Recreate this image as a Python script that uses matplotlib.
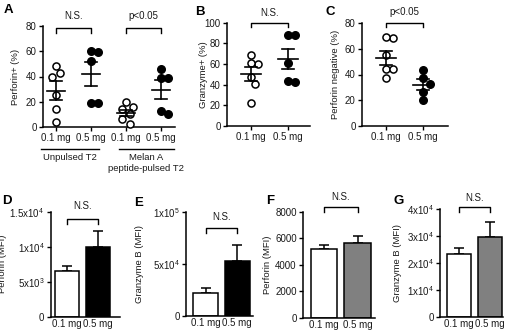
import numpy as np
import matplotlib
matplotlib.use("Agg")
import matplotlib.pyplot as plt
from matplotlib.transforms import blended_transform_factory

plt.rcParams['font.family'] = ['Liberation Sans', 'DejaVu Sans']
plt.rcParams['mathtext.default'] = 'regular'

W, H = 507, 332
fig = plt.figure(figsize=(W / 100, H / 100), dpi=100)

# ---------------- data ----------------
dose_labels = ["0.1 mg", "0.5 mg"]

# Panel A: Perforin+ (%)
a_unpulsed_01 = [48, 43, 39.5, 25, 14, 3.7]
a_unpulsed_05 = [60.5, 59.5, 52, 19, 19]
a_melan_01 = [19.5, 15.5, 14, 10, 6.5, 2]
a_melan_05 = [46, 39, 39, 10, 13]
a_groups = ["Unpulsed T2", "Melan A\npeptide-pulsed T2"]
a_sig = ["N.S.", "p<0.05"]

# Panel B: Granzyme+ (%)
b_01 = [69, 60, 61, 47, 41, 22.5]
b_05 = [88, 88, 61, 43, 44]

# Panel C: Perforin negative (%)
c_01 = [68, 69, 55, 44.3, 44, 37.5]
c_05 = [43.5, 37.5, 33, 26.5, 20]

# Panels D-G: MFI bars (mean, SEM)
d_mean = [6600, 9900];   d_sem = [700, 2350]
e_mean = [22300, 53200]; e_sem = [4200, 15200]
f_mean = [5150, 5650];   f_sem = [330, 500]
g_mean = [23200, 29700]; g_sem = [2200, 5600]

TXT = '#1a1a1a'
FS = 7


def add_ax(l, r, t, b):
    ax = fig.add_axes([l / W, 1 - b / H, (r - l) / W, (b - t) / H])
    ax._px = (l, r)
    return ax


def ylabel_at(ax, text, xpix):
    l, r = ax._px
    ax.set_ylabel(text, fontsize=6.8, color=TXT)
    ax.yaxis.set_label_coords((xpix - l) / (r - l), 0.5)
    ax.yaxis.label.set_va('center')


def style(ax):
    for s in ['top', 'right']:
        ax.spines[s].set_visible(False)
    for s in ['left', 'bottom']:
        ax.spines[s].set_linewidth(1.1)
        ax.spines[s].set_color('black')
    ax.tick_params(axis='both', direction='out', length=3, width=1.0,
                   labelsize=FS, colors='black', labelcolor=TXT, pad=1.5)


def swarm_offsets(ax, vals, xc, size_px=7.2):
    # simple deterministic beeswarm in pixel space
    fig.canvas.draw()
    trans = ax.transData
    pts = []
    out = [0.0] * len(vals)
    order = np.argsort(vals)[::-1]
    x0p = trans.transform((xc, 0))[0]
    x1p = trans.transform((xc + 1, 0))[0]
    upx = 1.0 / (x1p - x0p)
    for i in order:
        yp = trans.transform((xc, vals[i]))[1]
        cands = [0]
        for k in range(1, 8):
            cands += [k * 0.5, -k * 0.5]
        for c in cands:
            xp = x0p + c * size_px
            if all((xp - px) ** 2 + (yp - py) ** 2 >= (size_px * 0.98) ** 2 for px, py in pts):
                pts.append((xp, yp))
                out[i] = c * size_px * upx
                break
    return out


def scatter_group(ax, vals, xc, filled):
    vals = np.asarray(vals, float)
    offs = swarm_offsets(ax, vals, xc)
    xs = xc + np.array(offs)
    if filled:
        ax.scatter(xs, vals, s=30, facecolor='black', edgecolor='black', lw=1.0, zorder=3, clip_on=False)
    else:
        ax.scatter(xs, vals, s=26, facecolor='white', edgecolor='black', lw=1.1, zorder=3, clip_on=False)
    m = vals.mean()
    sem = vals.std(ddof=1) / np.sqrt(len(vals))
    ax.plot([xc - 0.27, xc + 0.27], [m, m], color='black', lw=1.2, zorder=4)
    ax.plot([xc, xc], [m - sem, m + sem], color='black', lw=1.2, zorder=4)
    for yy in (m - sem, m + sem):
        ax.plot([xc - 0.16, xc + 0.16], [yy, yy], color='black', lw=1.2, zorder=4)


def bracket(ax, x0, x1, y, drop, label, ty):
    ax.plot([x0, x0, x1, x1], [y - drop, y, y, y - drop], color='black', lw=1.0, clip_on=False)
    ax.text((x0 + x1) / 2, ty, label, ha='center', va='center', fontsize=FS, color=TXT, clip_on=False)


def letter(x, y, s):
    fig.text(x / W, 1 - y / H, s, fontsize=9.5, fontweight='bold', ha='left', va='center', color='black')


# ---------------- Panel A ----------------
axA = add_ax(43, 175, 26, 127)
style(axA)
axA.set_xlim(-0.37, 3.4)
axA.set_ylim(0, 80)
axA.set_yticks([0, 20, 40, 60, 80])
axA.set_xticks([0, 1, 2, 3])
axA.set_xticklabels(dose_labels * 2)
ylabel_at(axA, "Perforin+ (%)", 15)
scatter_group(axA, a_unpulsed_01, 0, False)
scatter_group(axA, a_unpulsed_05, 1, True)
scatter_group(axA, a_melan_01, 2, False)
scatter_group(axA, a_melan_05, 3, True)
bracket(axA, 0, 1, 78.5, 4, a_sig[0], 88)
bracket(axA, 2, 3, 78.5, 4, a_sig[1], 88)
trA = blended_transform_factory(axA.transData, fig.transFigure)
for (x0, x1), g in zip([(-0.42, 1.23), (1.8, 3.37)], a_groups):
    axA.plot([x0, x1], [1 - 149 / H] * 2, color='black', lw=1.0, transform=trA, clip_on=False)
    axA.text((x0 + x1) / 2, 1 - 153 / H, g, transform=trA, ha='center', va='top',
             fontsize=6.8, color=TXT, linespacing=1.35)
letter(4, 10, "A")

# ---------------- Panel B ----------------
axB = add_ax(227, 310, 22.7, 126)
style(axB)
axB.set_xlim(-0.65, 1.6)
axB.set_ylim(0, 100)
axB.set_yticks([0, 20, 40, 60, 80, 100])
axB.set_xticks([0, 1])
axB.set_xticklabels(dose_labels)
ylabel_at(axB, "Granzyme+ (%)", 203)
scatter_group(axB, b_01, 0, False)
scatter_group(axB, b_05, 1, True)
bracket(axB, 0, 1, 99.4, 4, "N.S.", 109)
letter(195, 12, "B")

# ---------------- Panel C ----------------
axC = add_ax(362, 448, 23, 126)
style(axC)
axC.set_xlim(-0.65, 1.68)
axC.set_ylim(0, 80)
axC.set_yticks([0, 20, 40, 60, 80])
axC.set_xticks([0, 1])
axC.set_xticklabels(dose_labels)
ylabel_at(axC, "Perforin negative (%)", 336)
scatter_group(axC, c_01, 0, False)
scatter_group(axC, c_05, 1, True)
bracket(axC, 0, 1, 80, 3, "p<0.05", 88.5)
letter(326, 12, "C")


# ---------------- Bar panels ----------------
def bar_panel(l, r, t, b, xlim, means, sems, colors, ymax, yticks, yticklabels,
              ylabel, ylab_x, br_y, br_drop, br_ty, let, letpos):
    ax = add_ax(l, r, t, b)
    style(ax)
    ax.set_xlim(*xlim)
    ax.set_ylim(0, ymax)
    x = np.arange(len(means))
    ax.bar(x, means, width=0.78, color=colors, edgecolor='black', linewidth=1.1, zorder=2)
    for xi, m, s in zip(x, means, sems):
        ax.errorbar(xi, m, yerr=[[0], [s]], fmt='none', ecolor='black', elinewidth=1.1,
                    capsize=3.3, capthick=1.1, zorder=1)
    ax.set_yticks(yticks)
    ax.set_yticklabels(yticklabels)
    ax.set_xticks(x)
    ax.set_xticklabels(dose_labels)
    ax.tick_params(axis='x', length=0, pad=2)
    ylabel_at(ax, ylabel, ylab_x)
    bracket(ax, 0, 1, br_y, br_drop, "N.S.", br_ty)
    letter(letpos[0], letpos[1], let)
    return ax


bar_panel(50.7, 120, 211.7, 316.7, (-0.53, 1.7), d_mean, d_sem, ['white', 'black'],
          15000, [0, 5000, 10000, 15000],
          ['0', '$5x10^3$', '$1x10^4$', '$1.5x10^4$'],
          "Perforin (MFI)", 3, 13900, 650, 15750, "D", (2, 201))

bar_panel(186, 253, 212.3, 315.7, (-0.62, 1.5), e_mean, e_sem, ['white', 'black'],
          100000, [0, 50000, 100000],
          ['0', '$5x10^4$', '$1x10^5$'],
          "Granzyme B (MFI)", 140, 84500, 4200, 95500, "E", (134, 203))

bar_panel(303, 375, 211.7, 317.7, (-0.62, 1.52), f_mean, f_sem, ['white', '#808080'],
          8000, [0, 2000, 4000, 6000, 8000],
          ['0', '2000', '4000', '6000', '8000'],
          "Perforin (MFI)", 268, 8380, 380, 9130, "F", (266, 201))

bar_panel(440, 503, 209, 316.7, (-0.62, 1.43), g_mean, g_sem, ['white', '#808080'],
          40000, [0, 10000, 20000, 30000, 40000],
          ['0', '$1x10^4$', '$2x10^4$', '$3x10^4$', '$4x10^4$'],
          "Granzyme B (MFI)", 398, 40600, 1600, 44000, "G", (394, 201))

fig.savefig("out.png", dpi=100, facecolor='white')
